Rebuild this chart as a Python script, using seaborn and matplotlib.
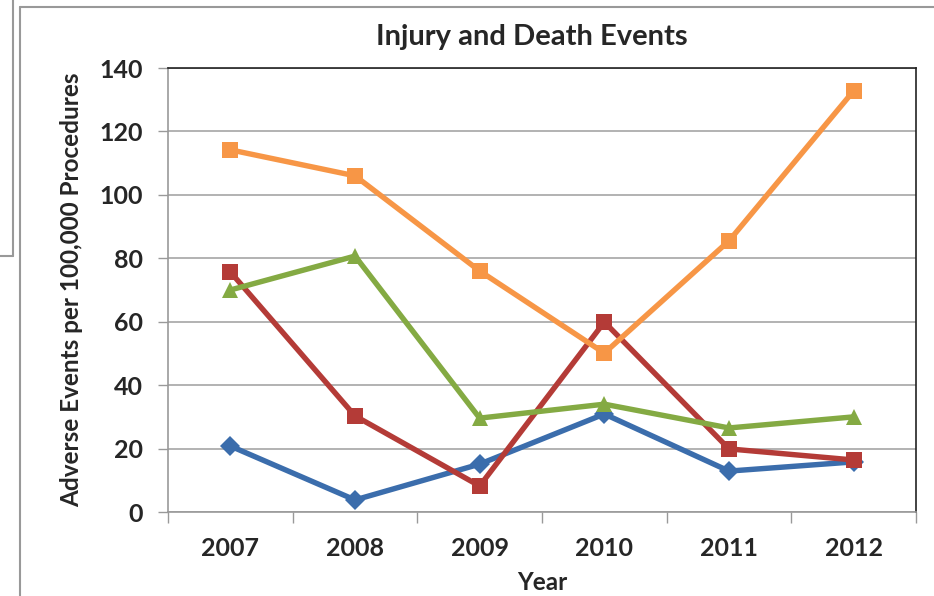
import numpy as np
import pandas as pd
import matplotlib.pyplot as plt
import seaborn as sns
from matplotlib.lines import Line2D


years = ["2007", "2008", "2009", "2010", "2011", "2012"]
series_a = [20.8, 3.8, 15.1, 30.9, 12.9, 15.8]     # blue diamonds
series_b = [75.7, 30.3, 8.2, 59.9, 19.9, 16.4]     # red squares
series_c = [70.0, 80.7, 29.6, 34.0, 26.5, 30.0]    # green triangles
series_d = [114.2, 106.0, 76.0, 50.1, 85.5, 132.8]  # orange squares
y_ticks = [0, 20, 40, 60, 80, 100, 120, 140]


def build_frame() -> pd.DataFrame:
    rows = []
    for name, vals in [("A", series_a), ("B", series_b), ("C", series_c), ("D", series_d)]:
        for i, v in enumerate(vals):
            rows.append({"pos": i, "value": v, "series": name})
    return pd.DataFrame(rows)


def draw(df: pd.DataFrame):
    sns.set_style("white")
    plt.rcParams["font.family"] = ["Lato", "DejaVu Sans"]
    plt.rcParams["font.weight"] = "bold"

    fig = plt.figure(figsize=(9.34, 5.96), dpi=100)
    ax = fig.add_axes([168 / 934, 1 - 512 / 596, 748 / 934, 444 / 596])

    palette = {"A": "#3B6DAC", "B": "#B43B37", "C": "#84AA43", "D": "#F79646"}
    markers = {"A": "D", "B": "s", "C": "^", "D": "s"}
    sizes = {"A": 10, "B": 12, "C": 12, "D": 12}

    for name in ["A", "B", "C", "D"]:
        sub = df[df["series"] == name]
        sns.lineplot(
            data=sub, x="pos", y="value", ax=ax,
            color=palette[name], marker=markers[name], markersize=sizes[name],
            markeredgewidth=0, linewidth=3.9, legend=False,
        )

    ax.set_xlim(-0.5, 5.5)
    ax.set_ylim(0, 140)
    ax.set_yticks(y_ticks)
    ax.set_yticklabels([str(t) for t in y_ticks], fontsize=18, fontweight="bold")
    ax.yaxis.grid(True, color="#a6a6a6", linewidth=1.2)
    ax.set_axisbelow(True)

    # boundaries get tick marks, centers get the year labels
    ax.set_xticks(np.arange(-0.5, 6, 1))
    ax.set_xticklabels([])
    ax.set_xticks(range(len(years)), minor=True)
    ax.set_xticklabels(years, minor=True, fontsize=18, fontweight="bold")
    ax.tick_params(axis="x", which="major", length=8, width=1, color="#999999", direction="out")
    ax.tick_params(axis="x", which="minor", length=0, pad=18)
    ax.tick_params(axis="y", length=7, width=1, color="#999999", direction="out", pad=11)
    ax.tick_params(left=True, bottom=True)

    for side in ["left", "bottom"]:
        ax.spines[side].set_color("#999999")
        ax.spines[side].set_linewidth(1.2)
    for side in ["top", "right"]:
        ax.spines[side].set_color("#222222")
        ax.spines[side].set_linewidth(1.2)

    ax.set_xlabel("Year", fontsize=17.5, fontweight="bold", labelpad=8)
    ax.set_ylabel("Adverse Events per 100,000 Procedures", fontsize=17.5, fontweight="bold", labelpad=12)
    fig.text(532 / 934, 1 - 37 / 596, "Injury and Death Events", ha="center", va="center",
             fontsize=21, fontweight="bold")

    # outer frame fragments from the original slide
    frame = dict(color="#999999", linewidth=1.5, transform=fig.transFigure)
    fig.add_artist(Line2D([20 / 934, 20 / 934], [0, 1 - 7 / 596], **frame))
    fig.add_artist(Line2D([20 / 934, 1], [1 - 7 / 596, 1 - 7 / 596], **frame))
    fig.add_artist(Line2D([13 / 934, 13 / 934], [1 - 256 / 596, 1], **frame))
    fig.add_artist(Line2D([0, 13 / 934], [1 - 256 / 596, 1 - 256 / 596], **frame))

    fig.savefig("out.png", dpi=100)


draw(build_frame())
